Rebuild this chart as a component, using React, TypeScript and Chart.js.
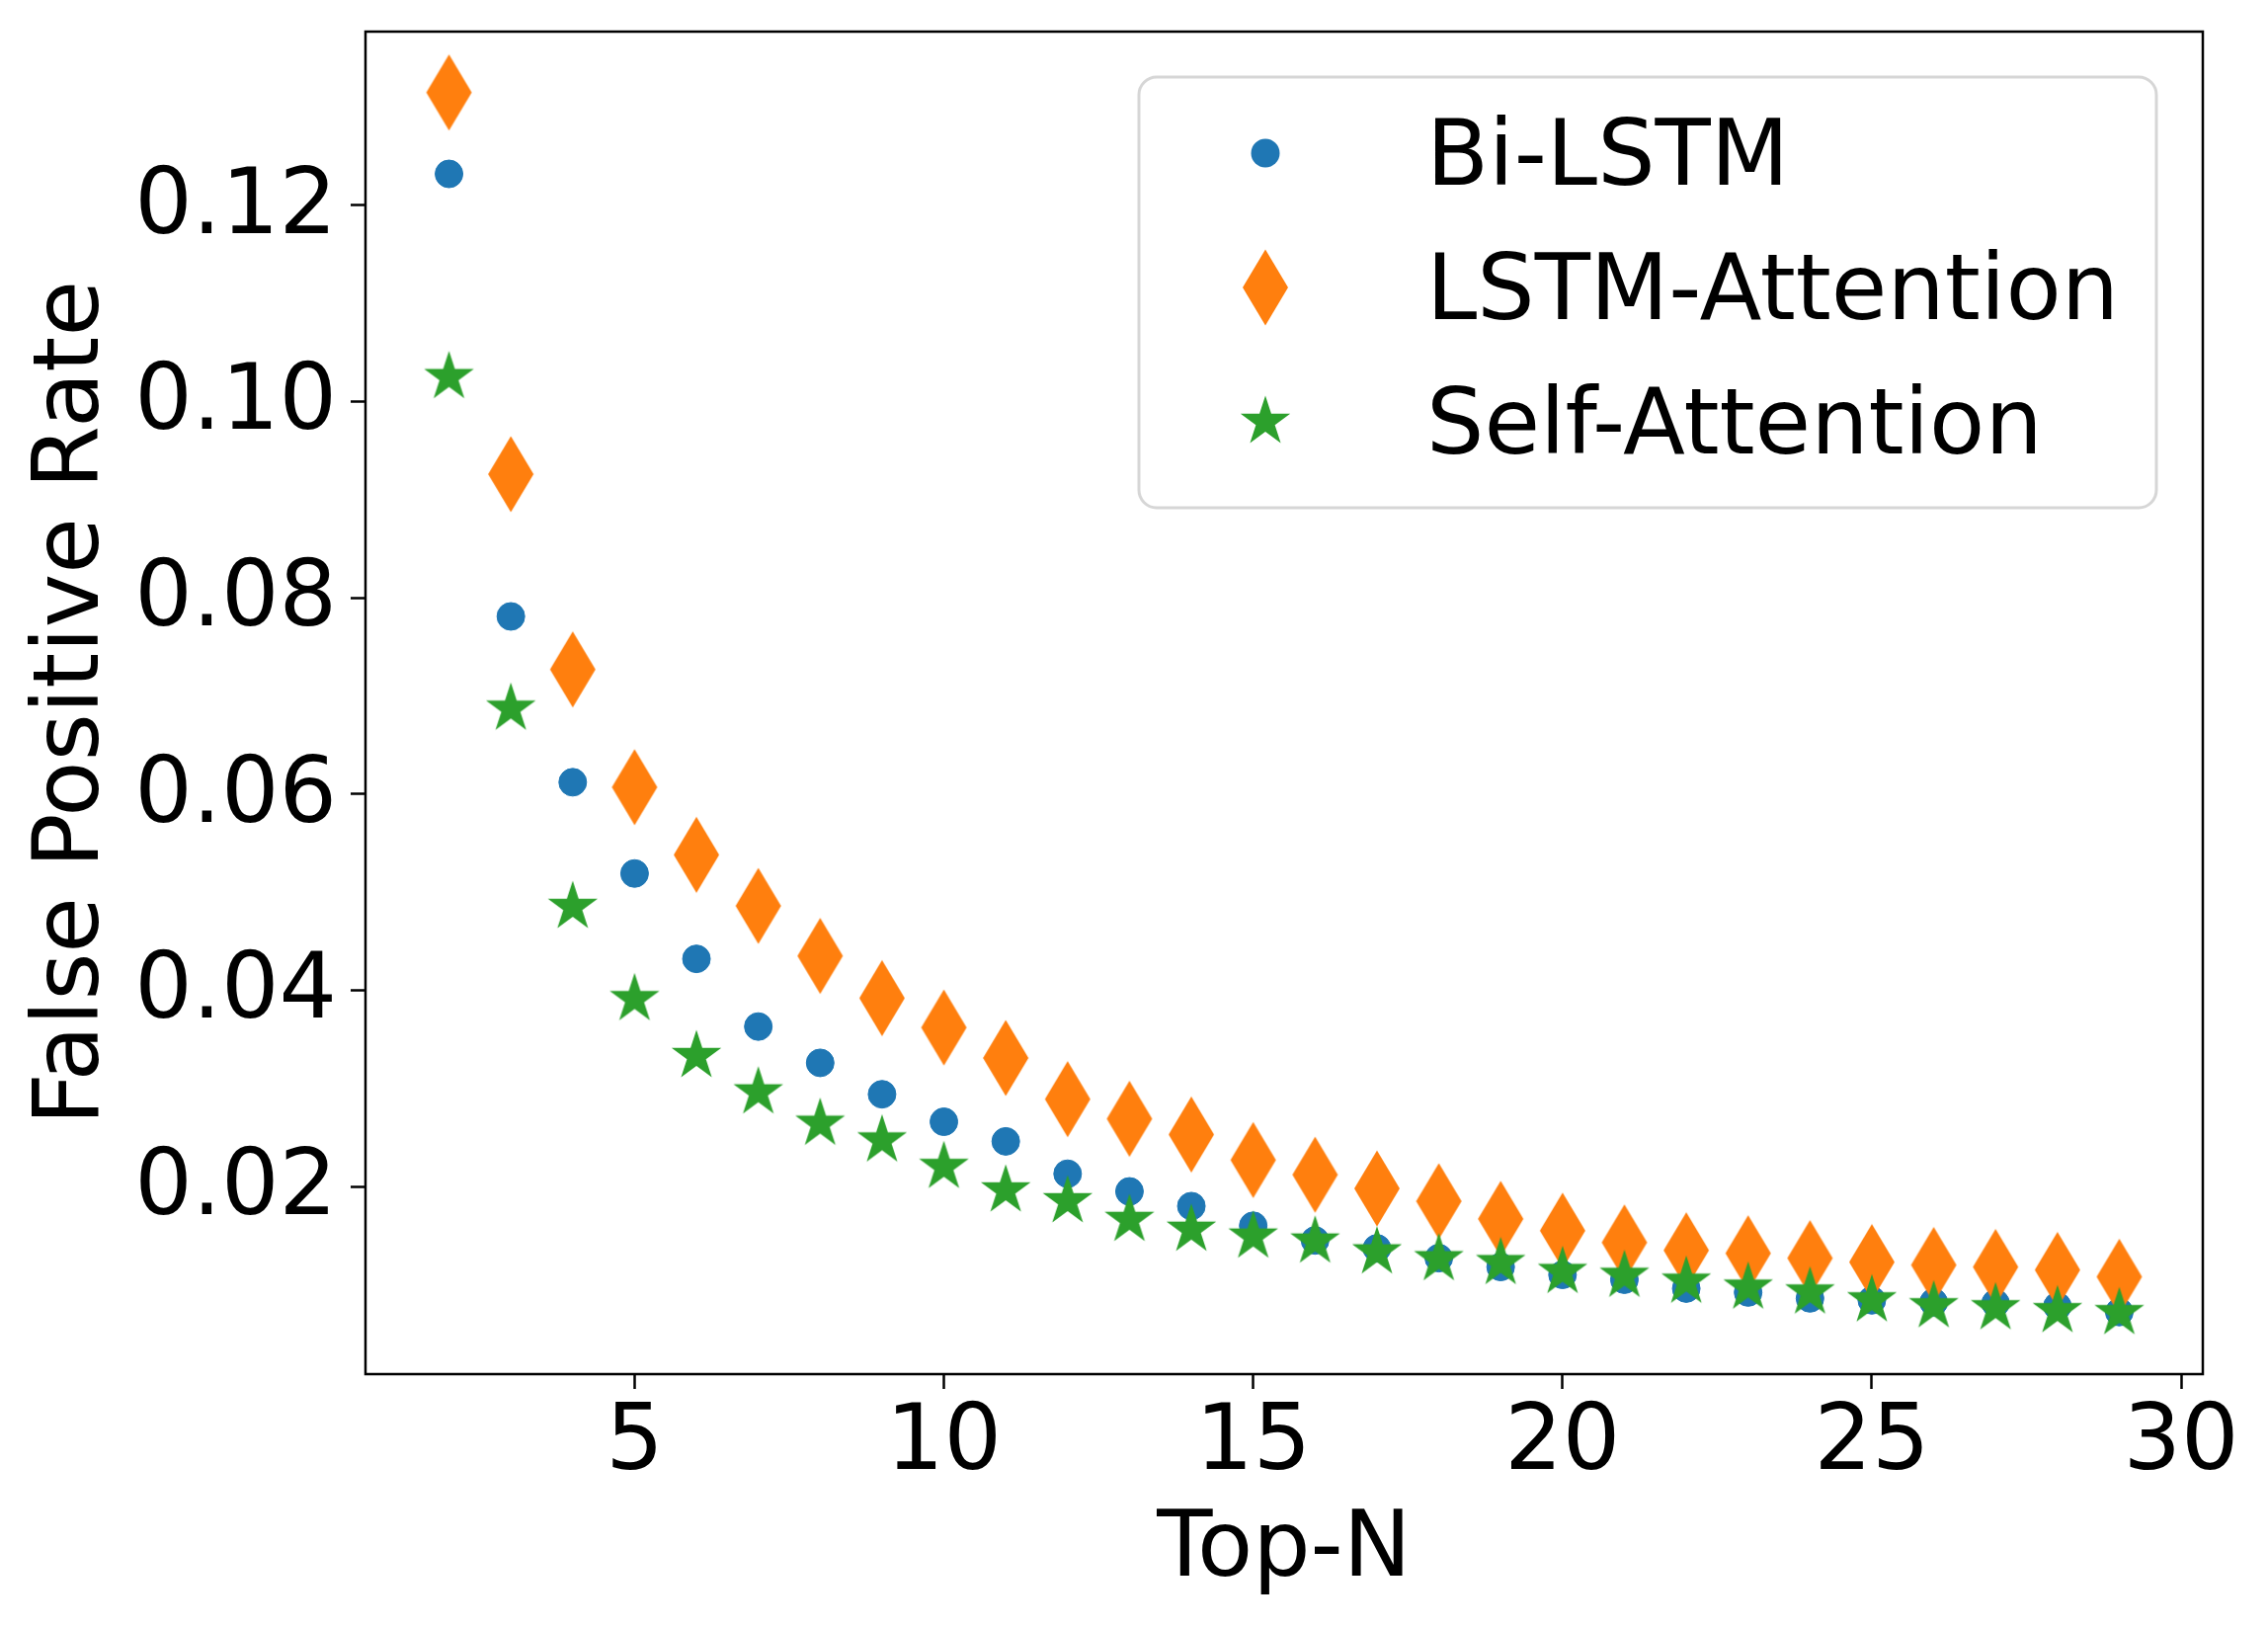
import { useEffect, useRef } from 'react';
import { Chart, registerables } from 'chart.js';

Chart.register(...registerables);

const topN = [2, 3, 4, 5, 6, 7, 8, 9, 10, 11, 12, 13, 14, 15, 16, 17, 18, 19, 20, 21, 22, 23, 24, 25, 26, 27, 28, 29];

const biLstm = [
    0.1232, 0.0781, 0.0612, 0.0519, 0.0432, 0.0363, 0.0326, 0.0294, 0.0266, 0.0246, 0.0213, 0.0195, 0.0180, 0.0160,
    0.0145, 0.0137, 0.0127, 0.0118, 0.0110, 0.0105, 0.0096, 0.0092, 0.0086, 0.0084, 0.0082, 0.0081, 0.0078, 0.0072,
];
const lstmAttention = [
    0.1315, 0.0926, 0.0727, 0.0607, 0.0538, 0.0486, 0.0435, 0.0392, 0.0362, 0.0331, 0.0289, 0.0269, 0.0253, 0.0227,
    0.0212, 0.0198, 0.0185, 0.0167, 0.0155, 0.0143, 0.0135, 0.0132, 0.0127, 0.0123, 0.0120, 0.0118, 0.0115, 0.0108,
];
const selfAttention = [
    0.1025, 0.0687, 0.0485, 0.0391, 0.0333, 0.0296, 0.0264, 0.0247, 0.0220, 0.0196, 0.0185, 0.0166, 0.0156, 0.0149,
    0.0144, 0.0133, 0.0126, 0.0122, 0.0113, 0.0109, 0.0103, 0.0097, 0.0092, 0.0084, 0.0078, 0.0076, 0.0073, 0.0071,
];

const seriesLabels = ['Bi-LSTM', 'LSTM-Attention', 'Self-Attention'];
const xTicks = [5, 10, 15, 20, 25, 30];
const yTicks = [0.02, 0.04, 0.06, 0.08, 0.1, 0.12];

const BLUE = '#1f77b4';
const ORANGE = '#ff7f0e';
const GREEN = '#2ca02c';
const FONT = 'DejaVu Sans';

// matplotlib 'd' marker (thin diamond)
function makeDiamond(color: string) {
    const c = document.createElement('canvas');
    c.width = 48;
    c.height = 80;
    const g = c.getContext('2d')!;
    g.fillStyle = color;
    g.beginPath();
    g.moveTo(24, 1.5);
    g.lineTo(47, 40);
    g.lineTo(24, 78.5);
    g.lineTo(1, 40);
    g.closePath();
    g.fill();
    return c;
}

// matplotlib '*' marker (filled pentagram)
function makeStar(color: string) {
    const c = document.createElement('canvas');
    c.width = 56;
    c.height = 56;
    const g = c.getContext('2d')!;
    const r = 26.5;
    const ri = r * 0.381966;
    g.fillStyle = color;
    g.beginPath();
    for (let i = 0; i < 10; i++) {
        const a = -Math.PI / 2 + (i * Math.PI) / 5;
        const rr = i % 2 === 0 ? r : ri;
        const px = 28 + rr * Math.cos(a);
        const py = 28 + rr * Math.sin(a);
        if (i === 0) g.moveTo(px, py);
        else g.lineTo(px, py);
    }
    g.closePath();
    g.fill();
    return c;
}

const toPoints = (ys: number[]) => topN.map((x, i) => ({ x, y: ys[i] }));

const App: React.FC = () => {
    const chartRef = useRef<HTMLCanvasElement>(null);

    useEffect(() => {
        const canvas = chartRef.current;
        if (!canvas) return;
        const ctx = canvas.getContext('2d');
        if (!ctx) return;

        const diamond = makeDiamond(ORANGE);
        const star = makeStar(GREEN);

        const framePlugin = {
            id: 'frameAndLegend',
            afterDraw(chart: any) {
                const c = chart.ctx;
                const a = chart.chartArea;
                c.save();
                // spines
                c.strokeStyle = '#000';
                c.lineWidth = 2.5;
                c.strokeRect(a.left, a.top, a.right - a.left, a.bottom - a.top);

                // legend box
                const w = 1030;
                const h = 436;
                const bx = a.right - 47 - w;
                const by = a.top + 46;
                c.beginPath();
                c.roundRect(bx, by, w, h, 18);
                c.fillStyle = 'rgba(255,255,255,0.8)';
                c.fill();
                c.strokeStyle = 'rgba(204,204,204,0.8)';
                c.lineWidth = 3;
                c.stroke();

                const mx = bx + 128;
                const tx = bx + 291;
                c.font = `92px "${FONT}"`;
                c.textBaseline = 'alphabetic';
                c.textAlign = 'left';
                chart.data.datasets.forEach((ds: any, i: number) => {
                    const base = by + 109 + i * 136;
                    const cy = base - 32;
                    if (i === 0) {
                        c.fillStyle = BLUE;
                        c.beginPath();
                        c.arc(mx, cy, 14.5, 0, Math.PI * 2);
                        c.fill();
                    } else {
                        const img = ds.pointStyle;
                        c.drawImage(img, mx - img.width / 2, cy - img.height / 2);
                    }
                    c.fillStyle = '#000';
                    c.fillText(ds.label, tx, base);
                });
                c.restore();
            },
        };

        const tickFont = { family: FONT, size: 92 };

        const chart = new Chart(ctx, {
            type: 'scatter',
            data: {
                datasets: [
                    {
                        label: seriesLabels[0],
                        data: toPoints(biLstm),
                        pointStyle: 'circle',
                        pointRadius: 14,
                        pointBackgroundColor: BLUE,
                        pointBorderColor: BLUE,
                        pointBorderWidth: 1,
                        order: 3,
                    },
                    {
                        label: seriesLabels[1],
                        data: toPoints(lstmAttention),
                        pointStyle: diamond,
                        pointRadius: 24,
                        order: 2,
                    },
                    {
                        label: seriesLabels[2],
                        data: toPoints(selfAttention),
                        pointStyle: star,
                        pointRadius: 26,
                        order: 1,
                    },
                ],
            },
            options: {
                animation: false,
                responsive: true,
                maintainAspectRatio: false,
                layout: { padding: { top: 32, right: 66, left: 0, bottom: 0 } },
                plugins: {
                    legend: { display: false },
                    tooltip: { enabled: false },
                },
                scales: {
                    x: {
                        type: 'linear',
                        min: 0.65,
                        max: 30.35,
                        border: { display: false },
                        grid: {
                            drawOnChartArea: false,
                            drawTicks: true,
                            tickLength: 15,
                            tickWidth: 2.5,
                            tickColor: '#000',
                        },
                        ticks: {
                            autoSkip: false,
                            maxRotation: 0,
                            padding: 2,
                            color: '#000',
                            font: tickFont,
                            callback: (v: any) => String(v),
                        },
                        title: {
                            display: true,
                            text: 'Top-N',
                            color: '#000',
                            font: tickFont,
                            padding: { top: 0, bottom: 22 },
                        },
                        afterBuildTicks: (scale: any) => {
                            scale.ticks = xTicks.map((value) => ({ value }));
                        },
                        afterFit: (scale: any) => {
                            scale.height = 257;
                            scale.paddingLeft = 0;
                            scale.paddingRight = 0;
                        },
                    },
                    y: {
                        type: 'linear',
                        min: 0.00088,
                        max: 0.1377,
                        border: { display: false },
                        grid: {
                            drawOnChartArea: false,
                            drawTicks: true,
                            tickLength: 15,
                            tickWidth: 2.5,
                            tickColor: '#000',
                        },
                        ticks: {
                            autoSkip: false,
                            padding: 14,
                            labelOffset: 4,
                            color: '#000',
                            font: tickFont,
                            callback: (v: any) => Number(v).toFixed(2),
                        },
                        title: {
                            display: true,
                            text: 'False Positive Rate',
                            color: '#000',
                            font: tickFont,
                            padding: { top: 20, bottom: 0 },
                        },
                        afterBuildTicks: (scale: any) => {
                            scale.ticks = yTicks.map((value) => ({ value }));
                        },
                        afterFit: (scale: any) => {
                            scale.width = 370;
                            scale.paddingTop = 0;
                            scale.paddingBottom = 0;
                        },
                    },
                },
            },
            plugins: [framePlugin],
        });

        return () => {
            chart.destroy();
        };
    }, []);

    return (
        <div style={{ position: 'absolute', left: 0, top: 0, width: '2296px', height: '1648px', background: '#fff' }}>
            <canvas ref={chartRef}></canvas>
        </div>
    );
};

export default App;
